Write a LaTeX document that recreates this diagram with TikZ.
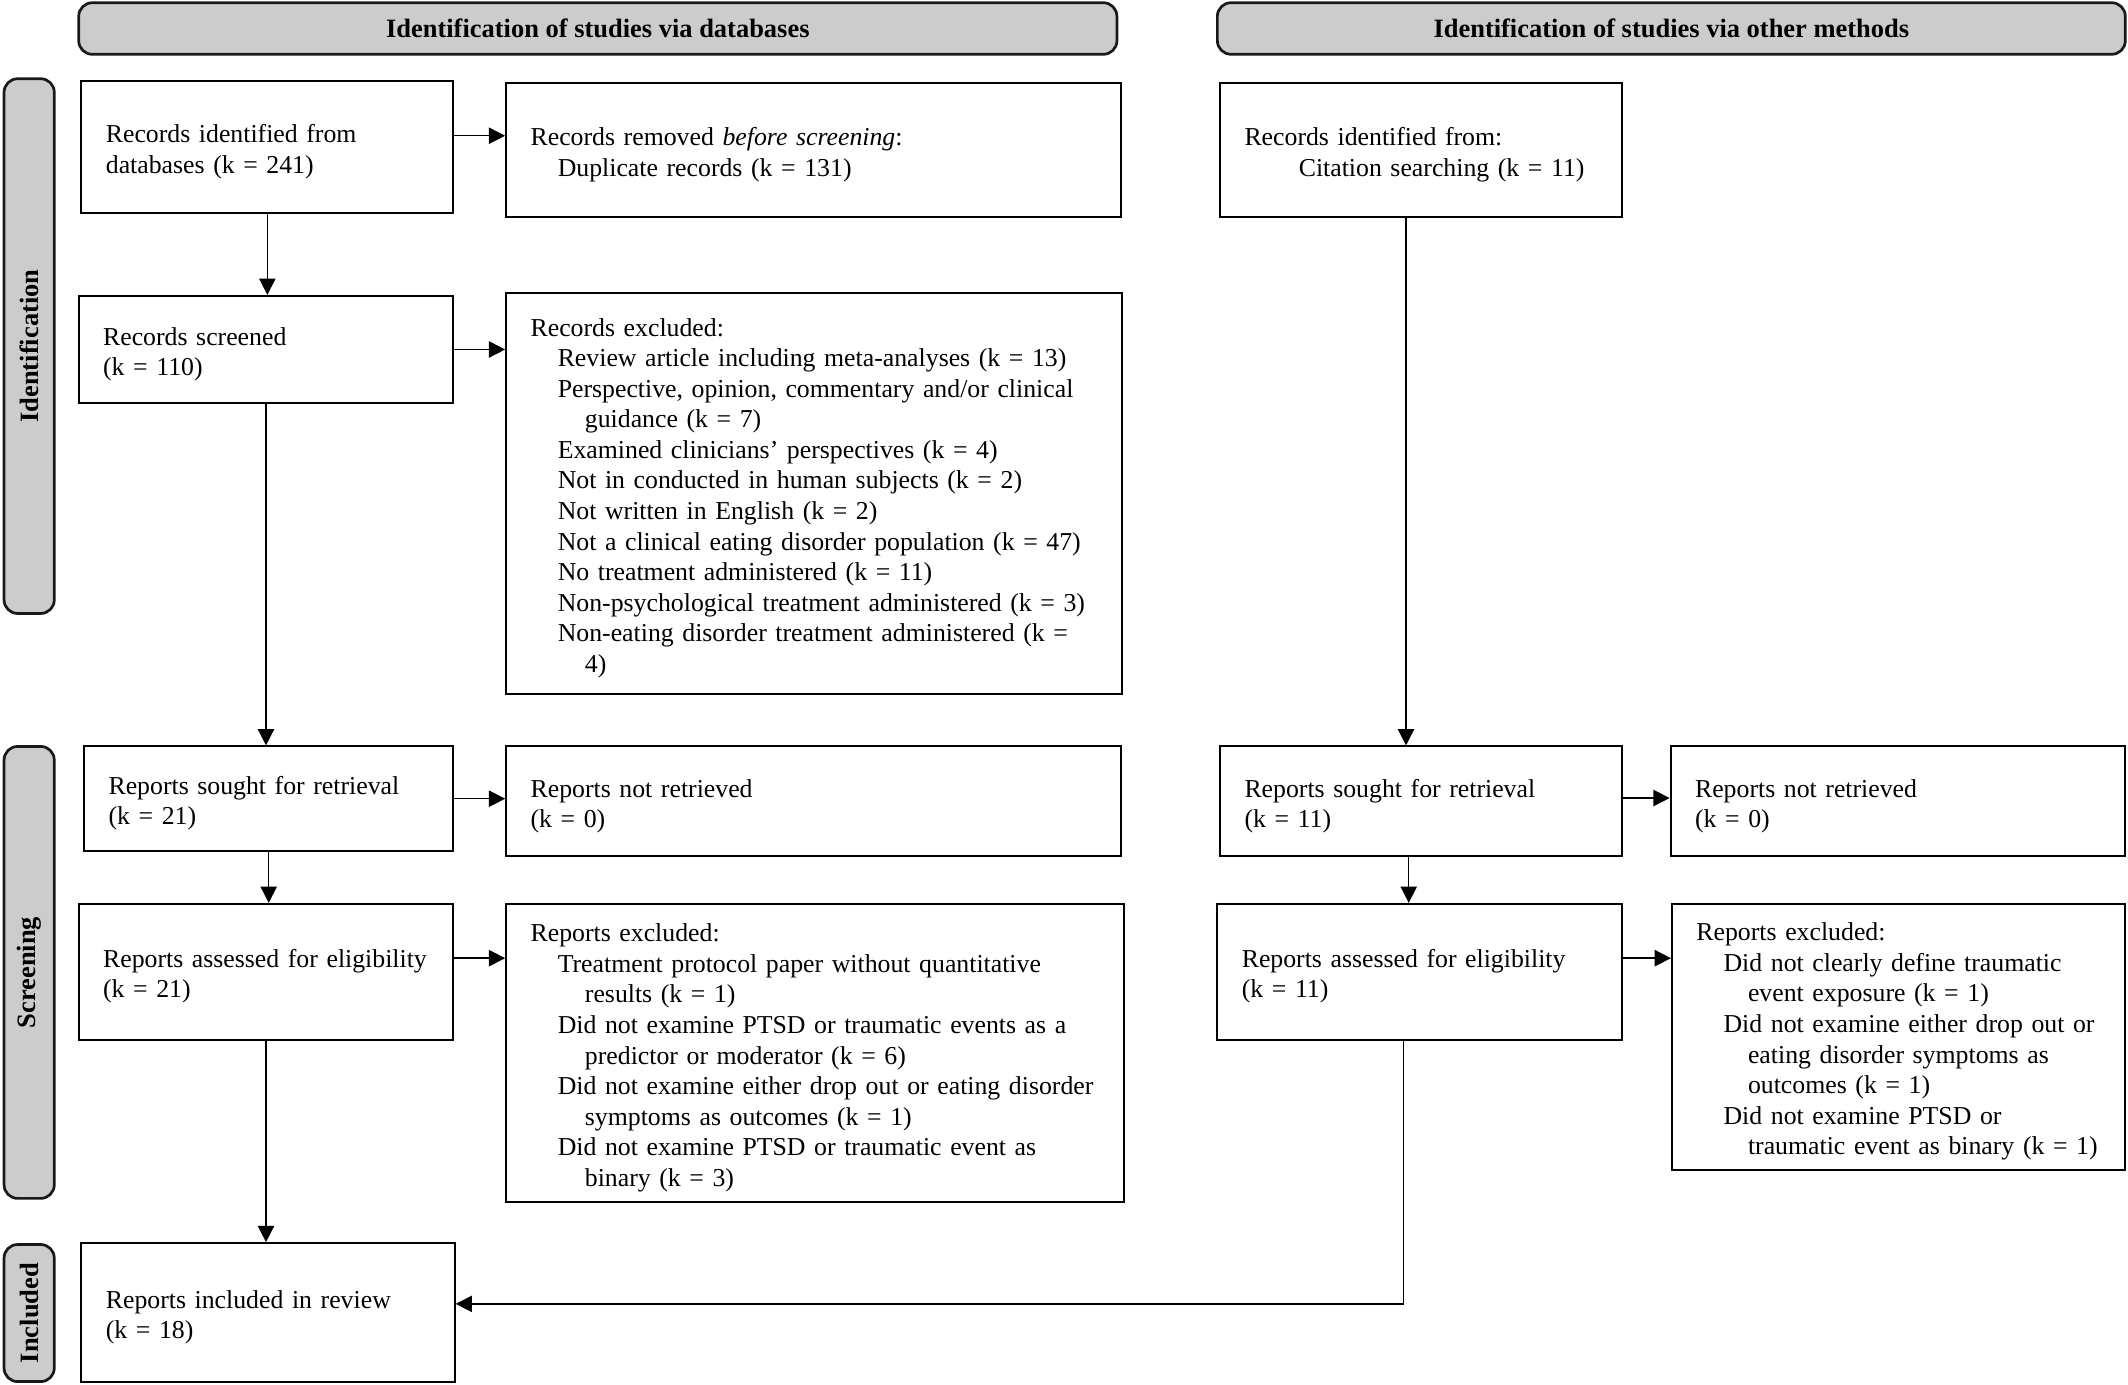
\documentclass[tikz,border=0pt]{standalone}
\usepackage{fontspec}
\setmainfont{Liberation Serif}
\usetikzlibrary{arrows.meta}
\newcommand\mybox[6]{%
  \pgfmathsetmacro\bxw{(#4-#2-36)*0.5}%
  \pgfmathsetmacro\bxh{(#5-#3)*0.5}%
  \pgfmathsetmacro\bxx{(#2+#4)/2}%
  \pgfmathsetmacro\bxy{(#3+#5)/2}%
  \node[box, text width=\bxw pt, minimum height=\bxh pt] (#1) at (\bxx,\bxy)
    {\raisebox{-1.75pt}[\height][\depth]{\begin{tabular}{@{}l@{}}#6\end{tabular}}};}
\begin{document}
\begin{tikzpicture}[x=0.5pt,y=-0.5pt,
  box/.style={draw, line width=0.75pt, inner xsep=9pt, inner ysep=0pt, align=left,
    font=\fontsize{9.5}{11.25}\selectfont},
  hdr/.style={draw=black!90, line width=1pt, fill=gray!40, rounded corners=5pt,
    inner sep=0pt, font=\fontsize{9.75}{11.25}\selectfont\bfseries},
  side/.style={draw=black!90, line width=1pt, fill=gray!40, rounded corners=5pt,
    inner sep=0pt, rotate=90, minimum height=18.5pt, font=\fontsize{9.75}{11.25}\selectfont\bfseries},
  arr/.style={line width=0.55pt, -{Triangle[length=6pt,width=6pt]}}]
\useasboundingbox (0,0) rectangle (1568,1019.8);
% headers
\node[hdr, minimum width=382.5pt, minimum height=19pt] (h1) at (440.5,21) {Identification of studies via databases};
\node[hdr, minimum width=334.5pt, minimum height=19pt] (h2) at (1231.5,21) {Identification of studies via other methods};
% side bars
\node[side, minimum width=197pt] (s1) at (21.5,255) {Identification};
\node[side, minimum width=166.5pt] (s2) at (21.5,716.5) {Screening};
\node[side, minimum width=50.5pt] (s3) at (21.5,967.5) {Included};
% left column
\mybox{A}{60}{60}{334}{157}{Records identified from\\databases (k = 241)}
\mybox{B}{373}{61}{826}{160}{Records removed \textit{before screening}:\\\hspace*{10pt}Duplicate records (k = 131)}
\mybox{C}{58}{218}{334}{297}{Records screened\\(k = 110)}
\mybox{D}{373}{216}{827}{511}{Records excluded:\\
\hspace*{10pt}Review article including meta-analyses (k = 13)\\
\hspace*{10pt}Perspective, opinion, commentary and/or clinical\\
\hspace*{20pt}guidance (k = 7)\\
\hspace*{10pt}Examined clinicians’ perspectives (k = 4)\\
\hspace*{10pt}Not in conducted in human subjects (k = 2)\\
\hspace*{10pt}Not written in English (k = 2)\\
\hspace*{10pt}Not a clinical eating disorder population (k = 47)\\
\hspace*{10pt}No treatment administered (k = 11)\\
\hspace*{10pt}Non-psychological treatment administered (k = 3)\\
\hspace*{10pt}Non-eating disorder treatment administered (k =\\
\hspace*{20pt}4)}
\mybox{E}{62}{550}{334}{627}{Reports sought for retrieval\\(k = 21)}
\mybox{F}{373}{550}{826}{631}{Reports not retrieved\\(k = 0)}
\mybox{G}{58}{666}{334}{766}{Reports assessed for eligibility\\(k = 21)}
\mybox{H}{373}{666}{828}{886}{Reports excluded:\\
\hspace*{10pt}Treatment protocol paper without quantitative\\
\hspace*{20pt}results (k = 1)\\
\hspace*{10pt}Did not examine PTSD or traumatic events as a\\
\hspace*{20pt}predictor or moderator (k = 6)\\
\hspace*{10pt}Did not examine either drop out or eating disorder\\
\hspace*{20pt}symptoms as outcomes (k = 1)\\
\hspace*{10pt}Did not examine PTSD or traumatic event as\\
\hspace*{20pt}binary (k = 3)}
\mybox{I}{60}{916}{335}{1018.5}{Reports included in review\\(k = 18)}
% right column
\mybox{J}{899}{61}{1195}{160}{Records identified from:\\\hspace*{20pt}Citation searching (k = 11)}
\mybox{K}{899}{550}{1195}{631}{Reports sought for retrieval\\(k = 11)}
\mybox{L}{1231}{550}{1566}{631}{Reports not retrieved\\(k = 0)}
\mybox{M}{897}{666}{1195}{766}{Reports assessed for eligibility\\(k = 11)}
\mybox{N}{1232}{666}{1566}{862}{Reports excluded:\\
\hspace*{10pt}Did not clearly define traumatic\\
\hspace*{19pt}event exposure (k = 1)\\
\hspace*{10pt}Did not examine either drop out or\\
\hspace*{19pt}eating disorder symptoms as\\
\hspace*{19pt}outcomes (k = 1)\\
\hspace*{10pt}Did not examine PTSD or\\
\hspace*{19pt}traumatic event as binary (k = 1)}
% arrows left
\draw[arr] (A.south) -- (A.south |- C.north);
\draw[arr] (C.south) -- (C.south |- E.north);
\draw[arr] (E.south) -- (E.south |- G.north);
\draw[arr] (G.south) -- (G.south |- I.north);
\draw[arr] ([yshift=4.25pt]A.east) -- ([yshift=4.25pt]A.east -| B.west);
\draw[arr] (C.east) -- (C.east -| D.west);
\draw[arr] (E.east) -- (E.east -| F.west);
\draw[arr] ([yshift=5pt]G.east) -- ([yshift=5pt]G.east -| H.west);
% arrows right
\draw[arr] ([xshift=-5.5pt]J.south) -- ([xshift=-5.5pt]J.south |- K.north);
\draw[arr] ([xshift=-4.5pt]K.south) -- ([xshift=-4.5pt]K.south |- M.north);
\draw[arr] ([yshift=1.25pt]K.east) -- ([yshift=1.25pt]K.east -| L.west);
\draw[arr] ([yshift=5pt]M.east) -- ([yshift=5pt]M.east -| N.west);
\draw[arr] ([xshift=-6pt]M.south) |- ([yshift=3.25pt]I.east);
\end{tikzpicture}
\end{document}
